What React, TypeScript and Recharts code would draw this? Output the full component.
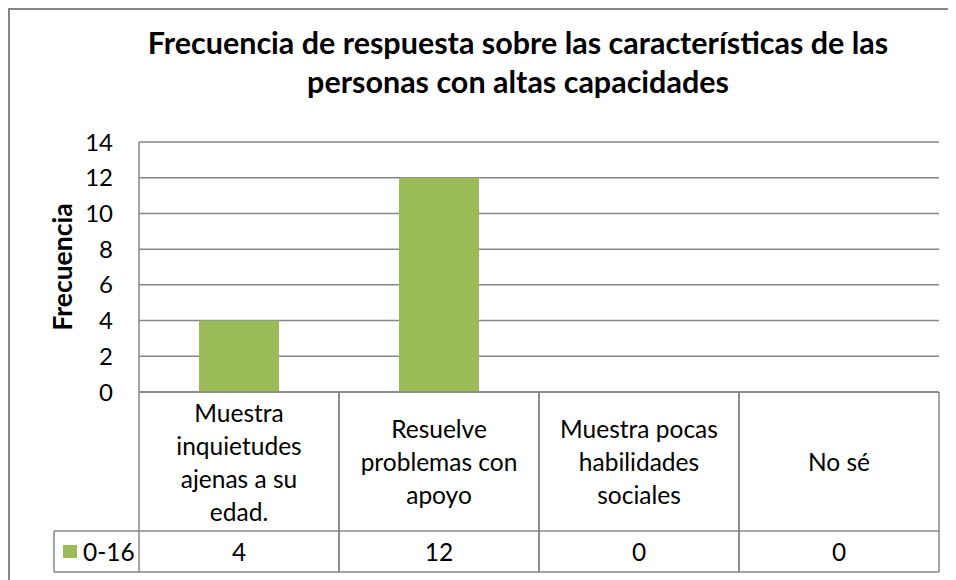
import React from "react";
import { BarChart, Bar, XAxis, YAxis, CartesianGrid } from "recharts";

const categories = [
  ["Muestra", "inquietudes", "ajenas a su", "edad."],
  ["Resuelve", "problemas con", "apoyo"],
  ["Muestra pocas", "habilidades", "sociales"],
  ["No sé"],
];
const seriesName = "0-16";
const values = [4, 12, 0, 0];
const yTicks = [0, 2, 4, 6, 8, 10, 12, 14];
const title = ["Frecuencia de respuesta sobre las características de las", "personas con altas capacidades"];
const yLabel = "Frecuencia";

const data = categories.map((lines, i) => ({ name: lines.join(" "), value: values[i] }));

const FONT = "Lato, 'Open Sans', sans-serif";
const LINE = "#868686";
const GREEN = "#9BBB59";

const CHART_W = 938;
const CHART_H = 590;
const MARGIN = { top: 132, right: 9, left: 0, bottom: 28 };
const Y_AXIS_W = 129;
const PLOT_W = CHART_W - MARGIN.left - MARGIN.right - Y_AXIS_W;
const BAND = PLOT_W / categories.length;
const CAT_ROW = 139;
const VAL_ROW = 41;
const LEGEND_W = 85;
const TABLE_FS = 24.5;

function TableTick(props: any) {
  const { x, y, index } = props;
  const lines = categories[index];
  const left = x - BAND / 2;
  const right = x + BAND / 2;
  const lh = 33;
  const midY = y + CAT_ROW / 2;
  const startY = midY - ((lines.length - 1) * lh) / 2;
  return (
    <g>
      <line x1={left} y1={y} x2={left} y2={y + CAT_ROW + VAL_ROW} stroke={LINE} strokeWidth={1.5} />
      <line x1={right} y1={y} x2={right} y2={y + CAT_ROW + VAL_ROW} stroke={LINE} strokeWidth={1.5} />
      <line x1={left} y1={y + CAT_ROW} x2={right} y2={y + CAT_ROW} stroke={LINE} strokeWidth={1.5} />
      <line x1={left} y1={y + CAT_ROW + VAL_ROW} x2={right} y2={y + CAT_ROW + VAL_ROW} stroke={LINE} strokeWidth={1.5} />
      {lines.map((t: string, i: number) => (
        <text key={i} x={x} y={startY + i * lh} textAnchor="middle" dominantBaseline="central" fontSize={TABLE_FS} fontFamily={FONT} fill="#000">
          {t}
        </text>
      ))}
      <text x={x} y={y + CAT_ROW + VAL_ROW / 2} textAnchor="middle" dominantBaseline="central" fontSize={TABLE_FS} fontFamily={FONT} fill="#000">
        {values[index]}
      </text>
      {index === 0 && (
        <g>
          <line x1={left - LEGEND_W} y1={y + CAT_ROW} x2={left} y2={y + CAT_ROW} stroke={LINE} strokeWidth={1.5} />
          <line x1={left - LEGEND_W} y1={y + CAT_ROW + VAL_ROW} x2={left} y2={y + CAT_ROW + VAL_ROW} stroke={LINE} strokeWidth={1.5} />
          <line x1={left - LEGEND_W} y1={y + CAT_ROW} x2={left - LEGEND_W} y2={y + CAT_ROW + VAL_ROW} stroke={LINE} strokeWidth={1.5} />
          <rect x={left - LEGEND_W + 9} y={y + CAT_ROW + 14} width={14} height={13} fill={GREEN} />
          <text x={left - LEGEND_W + 29} y={y + CAT_ROW + VAL_ROW / 2} dominantBaseline="central" fontSize={TABLE_FS} fontFamily={FONT} fill="#000">
            {seriesName}
          </text>
        </g>
      )}
    </g>
  );
}

function YLabel(props: any) {
  const vb = props.viewBox;
  const cx = 52;
  const cy = vb.y + vb.height / 2;
  return (
    <text x={cx} y={cy} transform={`rotate(-90, ${cx}, ${cy})`} textAnchor="middle" dominantBaseline="central" fontSize={26.5} fontWeight="bold" fontFamily={FONT} fill="#000">
      {yLabel}
    </text>
  );
}

export default function App() {
  return (
    <div style={{ position: "relative", width: 970, height: 600, borderTop: `2px solid ${LINE}`, borderLeft: `2px solid ${LINE}`, boxSizing: "border-box", background: "#fff" }}>
      <div style={{ position: "absolute", top: 13, left: 0, width: 938, textAlign: "center", fontFamily: FONT, fontWeight: "bold", fontSize: 30.5, lineHeight: "39px", color: "#000", paddingLeft: 78, boxSizing: "border-box" }}>
        <div>{title[0]}</div>
        <div>{title[1]}</div>
      </div>
      <BarChart width={CHART_W} height={CHART_H} data={data} margin={MARGIN} barCategoryGap="30%">
        <CartesianGrid vertical={false} stroke={LINE} strokeWidth={1.5} />
        <XAxis dataKey="name" axisLine={{ stroke: LINE, strokeWidth: 1.5 }} tickLine={false} tickSize={0} tickMargin={0} height={CAT_ROW + VAL_ROW} tick={<TableTick />} interval={0} />
        <YAxis
          width={Y_AXIS_W}
          domain={[0, 14]}
          ticks={yTicks}
          axisLine={{ stroke: LINE, strokeWidth: 1.5 }}
          tickLine={false}
          tickSize={0}
          tickMargin={26}
          tick={{ fill: "#000", fontSize: 24, fontFamily: FONT }}
          label={<YLabel />}
        />
        <Bar dataKey="value" fill={GREEN} isAnimationActive={false} />
      </BarChart>
    </div>
  );
}
